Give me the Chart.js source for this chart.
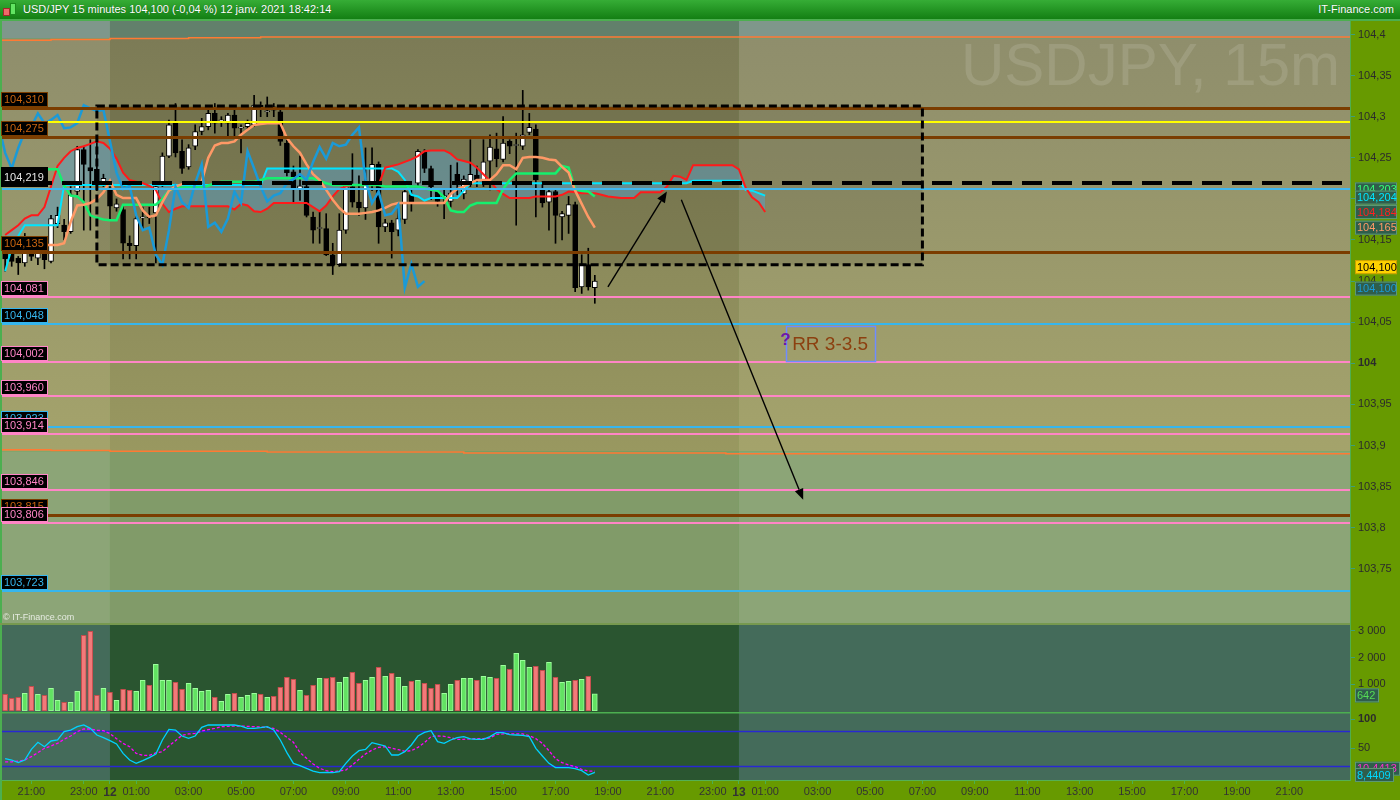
<!DOCTYPE html>
<html lang="fr">
<head>
<meta charset="utf-8">
<title>USD/JPY 15 minutes</title>
<script src="https://cdn.jsdelivr.net/npm/chart.js@4.4.1/dist/chart.umd.min.js"></script>
<style>
  html, body { margin: 0; padding: 0; }
  body { width: 1400px; height: 800px; overflow: hidden; position: relative; background: #4caf50; font-family: 'Liberation Sans', Arial, sans-serif; }
  #head { position: absolute; left: 0; top: 0; width: 1400px; height: 19px; background: linear-gradient(#36ad36, #137f13); color: #fff; font-size: 11px; line-height: 19px; text-shadow: 0 0 1px rgba(0,40,0,0.6); }
  #head .title { position: absolute; left: 23px; top: 0; }
  #head .brand { position: absolute; right: 6px; top: 0; }
  #head .ico { position: absolute; left: 3px; top: 3px; width: 14px; height: 14px; }
  #head .ico i { position: absolute; display: block; }
  .panel { position: absolute; left: 0; }
</style>
</head>
<body>
<div id="head">
  <span class="ico"><i style="left:0;top:5px;width:5px;height:6px;background:#f06a6a;border:1px solid #a02a2a"></i><i style="left:7px;top:0;width:4px;height:10px;background:#62e462;border:1px solid #1b8a1b"></i></span>
  <span class="title">USD/JPY 15 minutes 104,100 (-0,04 %) 12 janv. 2021 18:42:14</span>
  <span class="brand">IT-Finance.com</span>
</div>
<canvas id="priceCanvas" class="panel" width="1400" height="602" style="top:21px"></canvas>
<canvas id="volumeCanvas" class="panel" width="1400" height="89" style="top:623px"></canvas>
<canvas id="oscCanvas" class="panel" width="1400" height="88" style="top:712px"></canvas>

<script>
// bar index 0 = 11 janv. 20:00, one bar = 15 minutes
const timeTickBars = [4, 12, 16, 20, 28, 36, 44, 52, 60, 68, 76, 84, 92, 100, 108, 112, 116, 124, 132, 140, 148, 156, 164, 172, 180, 188, 196];
const timeTickLabels = ['21:00', '23:00', '12', '01:00', '03:00', '05:00', '07:00', '09:00', '11:00', '13:00', '15:00', '17:00', '19:00',
  '21:00', '23:00', '13', '01:00', '03:00', '05:00', '07:00', '09:00', '11:00', '13:00', '15:00', '17:00', '19:00', '21:00'];
const dayBreakBars = [16, 112];

const opens = [104.138,104.134,104.128,104.122,104.140,104.128,104.134,104.124,104.170,104.168,
  104.160,104.209,104.260,104.238,104.236,104.221,104.211,104.189,104.187,104.146,
  104.143,104.177,104.178,104.183,104.219,104.252,104.292,104.258,104.239,104.264,
  104.282,104.288,104.304,104.295,104.292,104.302,104.286,104.288,104.290,104.314,
  104.306,104.312,104.306,104.268,104.233,104.212,104.215,104.178,104.164,104.164,
  104.132,104.120,104.162,104.215,104.196,104.189,104.219,104.242,104.166,104.171,
  104.162,104.175,104.205,104.219,104.257,104.237,104.209,104.200,104.197,104.230,
  104.206,104.221,104.229,104.219,104.246,104.261,104.248,104.270,104.265,104.264,
  104.281,104.285,104.211,104.196,104.209,104.178,104.180,104.193,104.093,104.120,
  104.092];
const highs = [104.146,104.142,104.130,104.158,104.150,104.150,104.140,104.180,104.190,104.175,
  104.215,104.264,104.264,104.272,104.272,104.230,104.215,104.200,104.191,104.155,
  104.180,104.190,104.190,104.220,104.256,104.296,104.316,104.272,104.266,104.290,
  104.298,104.308,104.316,104.300,104.304,104.308,104.290,104.296,104.326,104.318,
  104.324,104.316,104.310,104.272,104.240,104.252,104.218,104.184,104.184,104.182,
  104.146,104.182,104.217,104.255,104.228,104.262,104.262,104.245,104.175,104.174,
  104.190,104.212,104.212,104.260,104.260,104.240,104.212,104.213,104.241,104.244,
  104.228,104.272,104.240,104.272,104.278,104.280,104.300,104.272,104.280,104.332,
  104.304,104.290,104.221,104.211,104.211,104.185,104.203,104.196,104.132,104.140,
  104.107];
const lows = [104.112,104.118,104.108,104.118,104.125,104.120,104.115,104.122,104.165,104.150,
  104.158,104.205,104.162,104.162,104.210,104.215,104.175,104.185,104.127,104.127,
  104.127,104.163,104.170,104.122,104.215,104.250,104.251,104.231,104.236,104.260,
  104.278,104.284,104.280,104.288,104.276,104.274,104.256,104.285,104.288,104.300,
  104.300,104.300,104.265,104.228,104.196,104.198,104.178,104.146,104.146,104.131,
  104.108,104.118,104.158,104.190,104.180,104.175,104.210,104.146,104.160,104.128,
  104.155,104.170,104.185,104.215,104.232,104.199,104.191,104.176,104.190,104.205,
  104.200,104.215,104.215,104.215,104.211,104.239,104.245,104.255,104.168,104.260,
  104.278,104.178,104.190,104.162,104.146,104.150,104.158,104.087,104.085,104.089,
  104.073];
const closes = [104.127,104.124,104.122,104.134,104.130,104.140,104.126,104.176,104.180,104.160,
  104.205,104.260,104.242,104.234,104.220,104.225,104.191,104.194,104.146,104.143,
  104.176,104.178,104.177,104.215,104.252,104.290,104.256,104.237,104.262,104.282,
  104.288,104.304,104.292,104.296,104.302,104.286,104.287,104.292,104.314,104.310,
  104.307,104.308,104.270,104.232,104.212,104.216,104.180,104.162,104.165,104.132,
  104.120,104.162,104.215,104.196,104.189,104.219,104.242,104.166,104.171,104.160,
  104.176,104.209,104.195,104.258,104.237,104.215,104.197,104.204,104.207,104.219,
  104.224,104.230,104.223,104.245,104.263,104.249,104.268,104.264,104.266,104.278,
  104.287,104.223,104.195,104.209,104.180,104.182,104.193,104.092,104.121,104.093,
  104.100];
const volumes = [625,475,512,662,925,625,588,850,400,325,
  325,738,2838,2988,588,850,700,400,812,775,
  738,1150,962,1750,1150,1150,1075,812,1038,850,
  738,775,512,362,625,662,512,588,662,625,
  512,550,888,1262,1188,775,588,962,1225,1225,
  1262,1075,1262,1450,1038,1150,1262,1638,1300,1412,
  1262,925,1112,1150,1038,850,1000,662,1000,1150,
  1225,1225,1150,1300,1262,1225,1712,1562,2162,1900,
  1638,1675,1525,1825,1262,1075,1112,1150,1188,1300,
  642];

// Ichimoku lines
const tenkan = [104.144,104.144,104.144,104.144,104.144,104.144,104.144,104.144,104.144,104.146,
  104.172,104.192,104.193,104.195,104.200,104.208,104.222,104.205,104.201,104.201,
  104.201,104.186,104.178,104.180,104.196,104.210,104.215,104.218,104.219,104.219,
  104.221,104.250,104.265,104.268,104.268,104.270,104.278,104.284,104.290,104.291,
  104.292,104.292,104.292,104.274,104.264,104.256,104.242,104.230,104.223,104.211,
  104.199,104.189,104.182,104.182,104.182,104.183,104.184,104.186,104.189,104.193,
  104.195,104.195,104.195,104.195,104.195,104.195,104.195,104.195,104.206,104.212,
  104.215,104.219,104.223,104.223,104.223,104.230,104.241,104.241,104.236,104.250,
  104.251,104.251,104.250,104.248,104.247,104.239,104.232,104.210,104.194,104.178,
  104.165];
const kijun = [104.236,104.236,104.236,104.236,104.236,104.236,104.236,104.236,104.236,104.216,
  104.204,104.203,104.196,104.180,104.177,104.175,104.174,104.174,104.193,104.193,
  104.193,104.193,104.193,104.193,104.200,104.210,104.214,104.214,104.214,104.214,
  104.214,104.216,104.219,104.221,104.221,104.221,104.221,104.221,104.221,104.223,
  104.225,104.225,104.225,104.225,104.225,104.225,104.225,104.225,104.222,104.219,
  104.217,104.217,104.217,104.217,104.217,104.217,104.217,104.217,104.215,104.215,
  104.215,104.215,104.215,104.215,104.213,104.211,104.210,104.202,104.186,104.184,
  104.184,104.192,104.195,104.195,104.195,104.195,104.212,104.223,104.231,104.231,
  104.231,104.231,104.231,104.231,104.231,104.240,104.238,104.212,104.210,104.209,
  104.203];
const spanA = [104.156,104.162,104.168,104.176,104.180,104.180,104.190,104.215,104.240,104.250,
  104.258,104.262,104.264,104.267,104.270,104.268,104.261,104.249,104.232,104.223,
  104.221,104.219,104.216,104.211,104.194,104.184,104.188,104.191,104.191,104.191,
  104.191,104.191,104.191,104.191,104.191,104.187,104.194,104.192,104.185,104.184,
  104.188,104.195,104.195,104.195,104.195,104.195,104.195,104.190,104.185,104.192,
  104.203,104.212,104.215,104.217,104.217,104.217,104.217,104.217,104.238,104.240,
  104.242,104.245,104.248,104.252,104.258,104.259,104.259,104.259,104.255,104.248,
  104.246,104.244,104.238,104.230,104.222,104.212,104.206,104.201,104.201,104.201,
  104.201,104.203,104.203,104.203,104.203,104.205,104.209,104.208,104.207,104.207,
  104.207,104.205,104.203,104.202,104.201,104.201,104.201,104.208,104.208,104.208,
  104.208,104.215,104.228,104.227,104.223,104.241,104.241,104.241,104.241,104.241,
  104.241,104.241,104.236,104.214,104.202,104.196,104.184];
const spanB = [104.112,104.140,104.155,104.168,104.168,104.168,104.168,104.168,104.168,104.217,
  104.217,104.217,104.217,104.217,104.217,104.217,104.217,104.217,104.217,104.217,
  104.217,104.217,104.217,104.217,104.217,104.217,104.217,104.217,104.217,104.217,
  104.217,104.217,104.217,104.217,104.217,104.217,104.217,104.217,104.217,104.217,
  104.237,104.237,104.237,104.237,104.237,104.237,104.237,104.237,104.237,104.237,
  104.237,104.237,104.237,104.237,104.237,104.237,104.237,104.237,104.237,104.237,
  104.233,104.223,104.205,104.203,104.198,104.201,104.201,104.201,104.201,104.201,
  104.210,104.219,104.219,104.219,104.219,104.219,104.219,104.219,104.219,104.219,
  104.219,104.219,104.219,104.219,104.219,104.219,104.219,104.219,104.219,104.219,
  104.219,104.219,104.219,104.219,104.219,104.219,104.219,104.219,104.219,104.219,
  104.219,104.219,104.219,104.219,104.219,104.222,104.222,104.222,104.222,104.222,
  104.222,104.222,104.222,104.211,104.210,104.207,104.204];
const LAG_START = -1;
const laggingSpan = [104.290,104.256,104.237,104.262,104.282,104.288,104.304,104.292,104.296,104.302,
  104.286,104.287,104.292,104.314,104.310,104.307,104.308,104.270,104.232,104.212,
  104.216,104.180,104.162,104.165,104.132,104.120,104.162,104.215,104.196,104.189,
  104.219,104.242,104.166,104.171,104.160,104.176,104.209,104.195,104.258,104.237,
  104.215,104.197,104.204,104.207,104.219,104.224,104.230,104.223,104.245,104.263,
  104.249,104.268,104.264,104.266,104.278,104.287,104.223,104.195,104.209,104.180,
  104.182,104.193,104.092,104.121,104.093,104.100];

// daily range bands (orange step lines)
const rangeTopX = [-1, 7, 16, 28, 39, 58, 206];
const rangeTopY = [104.392, 104.393, 104.394, 104.395, 104.396, 104.397, 104.397];
const rangeBottomX = [-1, 7, 16, 40, 70, 110, 160, 206];
const rangeBottomY = [103.8966, 103.895, 103.894, 103.893, 103.892, 103.891, 103.890, 103.890];

// horizontal levels
const levelPrices = [104.310, 104.293, 104.275, 104.219, 104.212, 104.135, 104.081, 104.048, 104.002, 103.960, 103.923, 103.914, 103.846, 103.815, 103.806, 103.723];
const levelKinds = ['brown', 'yellow', 'brown', 'dash', 'sky', 'brown', 'pink', 'blue', 'pink', 'pink', 'blue', 'pink', 'pink', 'brown', 'pink', 'blue'];

// drawn annotations
const rangeBoxBars = [14, 140];
const rangeBoxPrices = [104.313, 104.120];
const arrowStartBar = [92.0, 103.2];
const arrowStartPrice = [104.093, 104.199];
const arrowEndBar = [101.0, 121.8];
const arrowEndPrice = [104.209, 103.834];
const rrBoxBars = [119.2, 132.8];
const rrBoxPrices = [104.045, 104.002];
const rrText = 'RR 3-3.5';

// stochastic
const stochK = [32.2,29.8,25.2,29.8,48.2,60.3,52.8,62.6,64.3,78.7,
  81.5,87.3,90.2,84.4,72.9,68.3,63.2,57.4,41.3,29.8,
  24.0,28.7,33.8,40.2,64.3,82.7,81.5,71.2,67.2,71.2,
  86.1,90.2,90.2,90.2,90.2,90.2,88.4,84.4,84.4,85.6,
  87.3,81.5,64.3,42.5,24.0,20.0,15.4,10.8,7.9,8.5,
  7.9,9.6,24.0,36.7,45.9,48.2,59.7,56.8,54.0,38.4,
  38.4,44.2,55.7,71.2,77.5,80.4,61.4,58.5,64.3,68.3,
  70.1,66.1,65.5,65.5,70.1,77.0,77.0,73.5,72.9,72.4,
  70.1,49.9,36.7,24.0,16.6,16.6,16.6,14.8,11.4,3.9,
  8.4409];
const stochD = [26.7,26.7,27.9,29.8,35.6,42.5,50.0,54.0,58.6,65.5,
  71.2,78.7,83.3,83.3,81.0,80.4,75.2,66.6,58.4,52.8,
  41.3,37.8,37.8,41.9,44.2,54.0,63.2,72.4,74.7,75.8,
  79.8,82.1,84.4,87.3,87.9,88.4,88.4,87.9,87.3,86.7,
  86.1,84.4,77.5,68.9,60.3,42.5,32.7,23.0,15.4,11.4,
  9.6,10.8,12.5,21.2,30.9,40.2,47.0,51.6,52.8,50.5,
  47.6,44.8,45.9,51.6,59.7,70.1,71.2,70.7,68.3,65.5,
  65.5,66.1,66.6,66.6,67.8,74.1,74.7,74.7,74.7,74.7,
  71.8,66.6,58.4,45.9,32.1,25.2,21.2,18.3,13.7,10.8,
  10.4413];
const stochLevels = [80, 20];

// axis ticks
const priceTicks = [103.75, 103.8, 103.85, 103.9, 103.95, 104, 104.05, 104.1, 104.15, 104.2, 104.25, 104.3, 104.35, 104.4];
const volumeTicks = [1000, 2000, 3000];
const stochTicks = [50, 100];

document.addEventListener('DOMContentLoaded', function () {
  const FONT = "'Liberation Sans', Arial, sans-serif";
  Chart.defaults.font.family = FONT;

  const X_MIN = -0.48, X_MAX = 205.26;
  const AXIS_W = 50;
  const STRIP = '#679a00';
  const CLOUD = 'rgba(90,160,200,0.5)';
  const zoneTopPrice = 104.395, zoneBottomPrice = 103.893;
  const PRICE_ZONES = {
    off: { top: '#7f978b', midTop: '#8f8e6c', midBottom: '#a4a36b', low: '#8ca577' },
    day: { top: '#62806b', midTop: '#7c7b56', midBottom: '#999860', low: '#819b69' }
  };
  const SUB_ZONES = { off: '#446b5a', day: '#2a5530' };

  const LEVEL_STYLE = {
    brown: { color: '#7b3d00', width: 3, label: { text: '#c8640f', border: '#7b3d00' } },
    yellow: { color: '#ffff00', width: 2 },
    dash: { color: '#000000', width: 4, dash: [20, 10], label: { text: '#e4e4e4', border: '#000000', above: 16, height: 20 } },
    sky: { color: '#3fb6f0', width: 2 },
    pink: { color: '#ff85c6', width: 2, label: { text: '#ff85c6', border: '#ff85c6' } },
    blue: { color: '#36b6ee', width: 2, label: { text: '#36b6ee', border: '#36b6ee' } }
  };
  const TAG_BG = '#2f5d4b', TAG_BORDER = '#5c9a76';
  const priceTags = [
    { value: kijun[kijun.length - 1], text: '#33ff77', nudge: -7 },
    { value: spanB[spanB.length - 1], text: '#00e5ff', nudge: 2 },
    { value: spanA[spanA.length - 1], text: '#ff2020', nudge: 0 },
    { value: tenkan[tenkan.length - 1], text: '#ff9a66', nudge: 0 },
    { value: closes[closes.length - 1], text: '#000000', bg: '#ffd200', border: '#c8a000', nudge: -14 },
    { value: laggingSpan[laggingSpan.length - 1], text: '#1a9ad8', nudge: 7.5 }
  ];

  const bars = closes.map((c, i) => i);
  const isUp = closes.map((c, i) => c >= opens[i]);
  const pts = (arr, start) => arr.map((v, i) => ({ x: i + (start || 0), y: v }));
  const xyPts = (xs, ys) => xs.map((v, i) => ({ x: v, y: ys[i] }));
  const fmtPrice = v => String(+v.toFixed(3)).replace('.', ',');
  const fmtThousands = v => String(v).replace(/\B(?=(\d{3})+(?!\d))/g, ' ');
  const tickValue = ctx => (ctx && ctx.tick ? ctx.tick.value : NaN);

  function rightAxis(min, max, tickList, fmt, boldTest) {
    return {
      type: 'linear', position: 'right', min: min, max: max, beginAtZero: false,
      afterFit: s => { s.width = AXIS_W; s.paddingTop = 0; s.paddingBottom = 0; },
      afterBuildTicks: s => { s.ticks = tickList.map(v => ({ value: v })); },
      grid: { drawOnChartArea: false, tickLength: 5, color: '#3d9d7d' },
      border: { color: '#4fae4f' },
      ticks: {
        padding: 3, color: '#2b2b2b',
        font: ctx => ({ family: FONT, size: 11, weight: boldTest(tickValue(ctx)) ? 'bold' : 'normal' }),
        callback: v => fmt(v)
      }
    };
  }
  const hiddenX = { type: 'linear', min: X_MIN, max: X_MAX, offset: false, display: false };

  function paintSessions(chart, fillSeg) {
    const { chartArea: ca, scales: { x } } = chart;
    const xa = x.getPixelForValue(dayBreakBars[0]), xb = x.getPixelForValue(dayBreakBars[1]);
    fillSeg(ca.left, xa, 'off');
    fillSeg(xa, xb, 'day');
    fillSeg(xb, ca.right, 'off');
  }
  function paintFrame(chart) {
    const { ctx, chartArea: ca, width, height } = chart;
    ctx.fillStyle = STRIP;
    ctx.fillRect(ca.right, 0, width - ca.right, height);
    ctx.fillStyle = '#4caf50';
    ctx.fillRect(0, 0, ca.left, height);
  }
  function drawTag(ctx, left, yc, label, text, bg, border, w) {
    ctx.save();
    ctx.font = '11px ' + FONT;
    const width = w || Math.ceil(ctx.measureText(label).width) + 5;
    const h = 14;
    ctx.fillStyle = bg; ctx.fillRect(left, yc - h / 2, width, h);
    ctx.strokeStyle = border; ctx.lineWidth = 1;
    ctx.strokeRect(left + 0.5, yc - h / 2 + 0.5, width - 1, h - 1);
    ctx.fillStyle = text; ctx.textAlign = 'left'; ctx.textBaseline = 'middle';
    ctx.fillText(label, left + 2, yc + 0.5);
    ctx.restore();
  }
  function drawArrow(ctx, x0, y0, x1, y1) {
    const ang = Math.atan2(y1 - y0, x1 - x0), len = 11, half = 4.5;
    const bx = x1 - len * Math.cos(ang), by = y1 - len * Math.sin(ang);
    ctx.beginPath(); ctx.moveTo(x0, y0); ctx.lineTo(bx, by); ctx.stroke();
    ctx.beginPath();
    ctx.moveTo(x1, y1);
    ctx.lineTo(bx + half * Math.sin(ang), by - half * Math.cos(ang));
    ctx.lineTo(bx - half * Math.sin(ang), by + half * Math.cos(ang));
    ctx.closePath(); ctx.fill();
  }

  const pricePanel = {
    id: 'pricePanel',
    beforeDraw(chart) {
      const { ctx, chartArea: ca, scales: { x, y } } = chart;
      const yTop = y.getPixelForValue(zoneTopPrice), yBot = y.getPixelForValue(zoneBottomPrice);
      paintSessions(chart, (l, r, key) => {
        const c = PRICE_ZONES[key];
        ctx.fillStyle = c.top; ctx.fillRect(l, ca.top, r - l, yTop - ca.top);
        const g = ctx.createLinearGradient(0, yTop, 0, yBot);
        g.addColorStop(0, c.midTop); g.addColorStop(1, c.midBottom);
        ctx.fillStyle = g; ctx.fillRect(l, yTop, r - l, yBot - yTop);
        ctx.fillStyle = c.low; ctx.fillRect(l, yBot, r - l, ca.bottom - yBot);
      });
      const bx0 = x.getPixelForValue(rangeBoxBars[0]), bx1 = x.getPixelForValue(rangeBoxBars[1]);
      const by0 = y.getPixelForValue(rangeBoxPrices[0]), by1 = y.getPixelForValue(rangeBoxPrices[1]);
      ctx.fillStyle = 'rgba(0,0,0,0.1)';
      ctx.fillRect(bx0, by0, bx1 - bx0, by1 - by0);
      ctx.save();
      ctx.font = '60px ' + FONT;
      ctx.fillStyle = 'rgba(255,255,255,0.12)';
      ctx.textAlign = 'right'; ctx.textBaseline = 'alphabetic';
      ctx.fillText('USDJPY, 15m', ca.right - 10, 64);
      ctx.restore();
      paintFrame(chart);
    },
    afterDatasetsDraw(chart) {
      const { ctx, chartArea: ca, scales: { x, y } } = chart;
      ctx.save();
      levelPrices.forEach((p, i) => {
        const st = LEVEL_STYLE[levelKinds[i]];
        const yy = Math.round(y.getPixelForValue(p)) + (st.width % 2 ? 0.5 : 0);
        ctx.strokeStyle = st.color; ctx.lineWidth = st.width;
        ctx.setLineDash(st.dash || []);
        ctx.beginPath(); ctx.moveTo(ca.left, yy); ctx.lineTo(ca.right, yy); ctx.stroke();
      });
      ctx.setLineDash([8, 4]);
      ctx.strokeStyle = '#000'; ctx.lineWidth = 3;
      const bx0 = x.getPixelForValue(rangeBoxBars[0]), bx1 = x.getPixelForValue(rangeBoxBars[1]);
      const by0 = y.getPixelForValue(rangeBoxPrices[0]), by1 = y.getPixelForValue(rangeBoxPrices[1]);
      ctx.strokeRect(bx0, by0, bx1 - bx0, by1 - by0);
      ctx.setLineDash([]);
      ctx.lineWidth = 1.4; ctx.fillStyle = '#000';
      arrowStartBar.forEach((b, i) => {
        drawArrow(ctx, x.getPixelForValue(b), y.getPixelForValue(arrowStartPrice[i]),
          x.getPixelForValue(arrowEndBar[i]), y.getPixelForValue(arrowEndPrice[i]));
      });
      const rx0 = x.getPixelForValue(rrBoxBars[0]), rx1 = x.getPixelForValue(rrBoxBars[1]);
      const ry0 = y.getPixelForValue(rrBoxPrices[0]), ry1 = y.getPixelForValue(rrBoxPrices[1]);
      ctx.strokeStyle = '#6f8cff'; ctx.lineWidth = 1.5;
      ctx.strokeRect(Math.round(rx0) + 0.5, Math.round(ry0) + 0.5, Math.round(rx1 - rx0), Math.round(ry1 - ry0));
      ctx.font = '19px ' + FONT; ctx.fillStyle = '#8c4010';
      ctx.textAlign = 'left'; ctx.textBaseline = 'alphabetic';
      ctx.fillText(rrText, rx0 + 6, ry1 - 12);
      ctx.font = 'bold 17px ' + FONT; ctx.fillStyle = '#6f16a8';
      ctx.fillText('?', rx0 - 6, ry1 - 17);
      ctx.restore();
    },
    afterDraw(chart) {
      const { ctx, chartArea: ca, scales: { y } } = chart;
      ctx.save();
      ctx.font = '11px ' + FONT;
      ctx.textAlign = 'left'; ctx.textBaseline = 'middle';
      levelPrices.forEach((p, i) => {
        const st = LEVEL_STYLE[levelKinds[i]];
        if (!st.label) return;
        const lb = st.label;
        const txt = p.toFixed(3).replace('.', ',');
        const w = Math.ceil(ctx.measureText(txt).width) + 7;
        const h = lb.height || 15;
        const yy = y.getPixelForValue(p);
        const top = Math.round(yy - (lb.above || (15 + st.width / 2)));
        ctx.fillStyle = '#000'; ctx.fillRect(1, top, w, h);
        ctx.strokeStyle = lb.border; ctx.lineWidth = 1;
        ctx.strokeRect(1.5, top + 0.5, w - 1, h - 1);
        ctx.fillStyle = lb.text;
        ctx.fillText(txt, 4, top + h / 2 + 0.5);
      });
      ctx.font = '9px ' + FONT;
      ctx.fillStyle = 'rgba(255,255,255,0.78)';
      ctx.textBaseline = 'alphabetic';
      ctx.fillText('\u00a9 IT-Finance.com', 3, ca.bottom - 3);
      ctx.restore();
      priceTags.forEach(t => {
        drawTag(ctx, ca.right + 5, y.getPixelForValue(t.value) + t.nudge, t.value.toFixed(3).replace('.', ','),
          t.text, t.bg || TAG_BG, t.border || TAG_BORDER, 42);
      });
    }
  };

  new Chart(document.getElementById('priceCanvas'), {
    type: 'bar',
    data: {
      datasets: [
        { type: 'line', data: pts(laggingSpan, LAG_START), borderColor: '#1a9ad8', borderWidth: 2.5, pointRadius: 0, tension: 0, order: 1 },
        { type: 'line', data: pts(tenkan), borderColor: '#ff9966', borderWidth: 2.5, pointRadius: 0, tension: 0, order: 2 },
        { type: 'line', data: pts(kijun), borderColor: '#14f06e', borderWidth: 2.5, pointRadius: 0, tension: 0, order: 3 },
        { type: 'line', data: pts(spanA), borderColor: '#ff1a1a', borderWidth: 2, pointRadius: 0, tension: 0, order: 4,
          fill: { target: '+1', above: CLOUD, below: CLOUD } },
        { type: 'line', data: pts(spanB), borderColor: '#00e5ff', borderWidth: 2, pointRadius: 0, tension: 0, order: 5 },
        { type: 'line', data: xyPts(rangeTopX, rangeTopY), stepped: 'after', borderColor: '#ff7a33', borderWidth: 1.5, pointRadius: 0, order: 6 },
        { type: 'line', data: xyPts(rangeBottomX, rangeBottomY), stepped: 'after', borderColor: '#ff7a33', borderWidth: 1.5, pointRadius: 0, order: 7 },
        { type: 'bar', data: bars.map(i => ({ x: i, y: [opens[i], closes[i]] })),
          backgroundColor: isUp.map(u => u ? '#ffffff' : '#000000'), borderColor: '#000000', borderWidth: 1,
          borderSkipped: false, barThickness: 5, minBarLength: 1, grouped: false, order: 8 },
        { type: 'bar', data: bars.map(i => ({ x: i, y: [lows[i], highs[i]] })),
          backgroundColor: '#000000', barThickness: 1, grouped: false, order: 9 }
      ]
    },
    options: {
      responsive: false, animation: false, events: [], devicePixelRatio: 1,
      layout: { padding: { left: 2, right: 0, top: 0, bottom: 0 }, autoPadding: false },
      plugins: { legend: { display: false }, tooltip: { enabled: false }, filler: { drawTime: 'beforeDatasetsDraw' } },
      scales: {
        x: hiddenX,
        y: rightAxis(103.6841, 104.4164, priceTicks, fmtPrice, v => Number.isInteger(v))
      }
    },
    plugins: [pricePanel]
  });

  const volumePanel = {
    id: 'volumePanel',
    beforeDraw(chart) {
      const { ctx, height } = chart;
      paintSessions(chart, (l, r, key) => { ctx.fillStyle = SUB_ZONES[key]; ctx.fillRect(l, 0, r - l, height); });
      paintFrame(chart);
      ctx.fillStyle = '#77994f';
      ctx.fillRect(0, 0, chart.chartArea.right, 2);
    },
    afterDraw(chart) {
      const { ctx, chartArea: ca, scales: { y } } = chart;
      const last = volumes[volumes.length - 1];
      drawTag(ctx, ca.right + 5, y.getPixelForValue(last) + 1.5, String(last), '#55dd55', TAG_BG, TAG_BORDER);
    }
  };

  new Chart(document.getElementById('volumeCanvas'), {
    type: 'bar',
    data: {
      datasets: [{
        data: bars.map(i => ({ x: i, y: volumes[i] })),
        backgroundColor: isUp.map(u => u ? '#62e262' : '#f27a7a'),
        borderColor: isUp.map(u => u ? '#9cff9c' : '#c44c4c'),
        borderWidth: 1, borderSkipped: false, barThickness: 5
      }]
    },
    options: {
      responsive: false, animation: false, events: [], devicePixelRatio: 1,
      layout: { padding: { left: 2, right: 0, top: 0, bottom: 1 }, autoPadding: false },
      plugins: { legend: { display: false }, tooltip: { enabled: false } },
      scales: {
        x: hiddenX,
        y: rightAxis(0, 3296, volumeTicks, fmtThousands, () => false)
      }
    },
    plugins: [volumePanel]
  });

  const oscPanel = {
    id: 'oscPanel',
    beforeDraw(chart) {
      const { ctx, chartArea: ca, width, height } = chart;
      paintSessions(chart, (l, r, key) => { ctx.fillStyle = SUB_ZONES[key]; ctx.fillRect(l, 0, r - l, ca.bottom); });
      ctx.fillStyle = STRIP;
      ctx.fillRect(0, ca.bottom, width, height - ca.bottom);
      paintFrame(chart);
      ctx.fillStyle = '#4caf50';
      ctx.fillRect(0, 0, ca.right, 1.5);
    },
    beforeDatasetsDraw(chart) {
      const { ctx, chartArea: ca, scales: { y } } = chart;
      ctx.save();
      ctx.strokeStyle = '#2828d2'; ctx.lineWidth = 1.5;
      stochLevels.forEach(v => {
        const yy = Math.round(y.getPixelForValue(v)) + 0.5;
        ctx.beginPath(); ctx.moveTo(ca.left, yy); ctx.lineTo(ca.right, yy); ctx.stroke();
      });
      ctx.restore();
    },
    afterDraw(chart) {
      const { ctx, chartArea: ca, scales: { y } } = chart;
      const d = stochD[stochD.length - 1], k = stochK[stochK.length - 1];
      drawTag(ctx, ca.right + 5, y.getPixelForValue(d) - 2.5, d.toFixed(4).replace('.', ','), '#ff2fd0', TAG_BG, TAG_BORDER);
      drawTag(ctx, ca.right + 5, y.getPixelForValue(k) + 2.6, k.toFixed(4).replace('.', ','), '#00d8ff', TAG_BG, TAG_BORDER);
    }
  };

  new Chart(document.getElementById('oscCanvas'), {
    type: 'line',
    data: {
      datasets: [
        { data: pts(stochK), borderColor: '#00d2ff', borderWidth: 1.3, pointRadius: 0, tension: 0, order: 1 },
        { data: pts(stochD), borderColor: '#ff00ff', borderWidth: 1.3, borderDash: [3, 2], pointRadius: 0, tension: 0, order: 2 }
      ]
    },
    options: {
      responsive: false, animation: false, events: [], devicePixelRatio: 1,
      layout: { padding: { left: 2, right: 0, top: 0, bottom: 0 }, autoPadding: false },
      plugins: { legend: { display: false }, tooltip: { enabled: false } },
      scales: {
        x: {
          type: 'linear', min: X_MIN, max: X_MAX, offset: false, position: 'bottom',
          afterBuildTicks: s => { s.ticks = timeTickBars.map(v => ({ value: v })); },
          afterFit: s => { s.height = 20; s.paddingLeft = 0; s.paddingRight = 0; },
          grid: { drawOnChartArea: false, tickLength: 4, color: '#4caf50' },
          border: { color: '#55b055' },
          ticks: {
            autoSkip: false, maxRotation: 0, padding: 1, color: '#333',
            font: ctx => dayBreakBars.includes(tickValue(ctx)) ? { family: FONT, size: 12, weight: 'bold' } : { family: FONT, size: 11 },
            callback: (v, i) => timeTickLabels[i]
          }
        },
        y: rightAxis(-4.7, 112.6, stochTicks, v => String(v), v => v === 100)
      }
    },
    plugins: [oscPanel]
  });
});
</script>
</body>
</html>
